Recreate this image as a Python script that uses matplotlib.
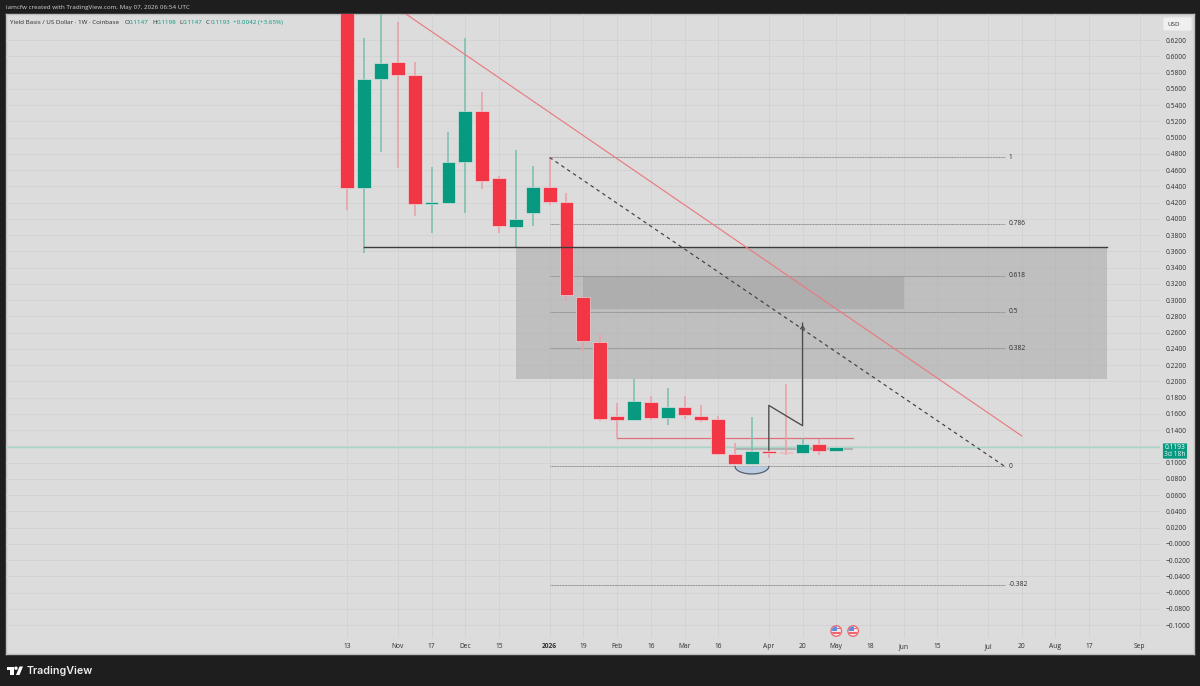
import numpy as np
import matplotlib
matplotlib.use("Agg")
import matplotlib.pyplot as plt
from matplotlib.patches import Rectangle, FancyBboxPatch, Circle

plt.rcParams['font.family'] = ['Open Sans', 'DejaVu Sans']

# ---------- data ----------
opens  = [0.70,0.4386,0.572,0.5927,0.5777,0.418,0.4192,0.4705,0.5333,0.45,0.3906,0.4074,0.4394,0.4205,0.3044,0.2482,
          0.1571,0.1522,0.1748,0.1547,0.1682,0.1571,0.1538,0.1111,0.0988,0.1141,0.1137,0.112,0.1231,0.1147]
highs  = [0.75,0.6224,0.66,0.642,0.5936,0.4644,0.507,0.6232,0.5559,0.4529,0.4845,0.4652,0.4767,0.4316,0.3044,0.2585,
          0.1731,0.2031,0.1822,0.1924,0.1818,0.1707,0.1575,0.1243,0.1563,0.1165,0.1969,0.1308,0.1289,0.1198]
lows   = [0.411,0.3577,0.482,0.4623,0.4037,0.3832,0.4185,0.4078,0.4365,0.3824,0.3659,0.3914,0.4168,0.2995,0.2379,0.1514,
          0.1308,0.1522,0.153,0.1461,0.1542,0.1505,0.1099,0.0981,0.0981,0.1058,0.1091,0.112,0.1095,0.1147]
closes = [0.4386,0.572,0.5925,0.5772,0.418,0.4205,0.4705,0.5333,0.4472,0.3914,0.3996,0.4394,0.4205,0.3065,0.2502,0.1542,
          0.1522,0.1756,0.1555,0.1682,0.1588,0.153,0.1111,0.0981,0.1141,0.1116,0.1116,0.1227,0.1145,0.1193]

price_ticks = [round(0.62 - 0.02*i, 2) for i in range(37)]
date_pos    = [0,3,5,7,9,12,14,16,18,20,22,25,27,29,31,33,35,38,40,42,44,47]
date_labels = ['13','Nov','17','Dec','15','2026','19','Feb','16','Mar','16','Apr','20','May','18','Jun','15','Jul','20','Aug','17','Sep']
bold_dates  = ['2026']

fib_levels = [1, 0.786, 0.618, 0.5, 0.382, 0, -0.382]
fib_top, fib_bottom = 0.4757, 0.0954
fib_start, fib_end = 12, 39.0

trend_x, trend_y = [3.48, 40], [0.6523, 0.133]
support_level = 0.3659
support_x = [1, 45.05]
zone_outer = (10, 45.05, 0.2031, 0.3655)
zone_inner = (14, 33, 0.2892, 0.33)
red_level = 0.1308
red_x = [16, 30]
band = (23, 30, 0.1157, 0.1185)
path_x = [25, 25, 27, 27]
path_y = [0.1157, 0.1706, 0.1456, 0.2717]
last_price = 0.1193
arc_center, arc_halfwidth, arc_depth = 24, 1, 0.0092
flag_pos = [29, 30]

# ---------- colours ----------
FRAME = '#1e1e1e'; BG = '#dcdcdc'; GRID = '#d3d3d3'; TXT = '#2e2e2e'
UP = '#089981'; DOWN = '#f23645'; UPW = '#7cbfb0'; DOWNW = '#eaa0a8'
TICK_FS = 4.8

W, H = 1200, 686
fig = plt.figure(figsize=(W/100, H/100), dpi=100, facecolor=FRAME)
def axrect(l, t, r, b):
    return [l/W, 1-b/H, (r-l)/W, (b-t)/H]

panel = fig.add_axes(axrect(6, 14, 1194, 654), facecolor=BG)
panel.set_xticks([]); panel.set_yticks([])
for s in panel.spines.values():
    s.set_color('#bdbdbd'); s.set_linewidth(1)

ax = fig.add_axes(axrect(6, 14, 1160, 638), facecolor='none')
ax.set_xlim(-20.24, 48.2)
ax.set_ylim(-0.1157, 0.6523)
for s in ax.spines.values():
    s.set_visible(False)
ax.set_yticks(price_ticks)
ax.set_yticklabels([(f'{p:.4f}' if p > 0 else '\u2212' + f'{abs(p):.4f}') for p in price_ticks])
ax.yaxis.tick_right()
ax.set_xticks(date_pos)
ax.set_xticklabels(date_labels)
ax.tick_params(axis='y', length=0, pad=4.3, labelsize=TICK_FS, labelcolor=TXT)
ax.tick_params(axis='x', length=0, pad=3.6, labelsize=TICK_FS, labelcolor=TXT)
for lab in ax.get_xticklabels():
    if lab.get_text() in bold_dates:
        lab.set_fontweight('bold')
ax.grid(True, color=GRID, lw=0.7)
ax.set_axisbelow(True)

# zones
ax.add_patch(Rectangle((zone_outer[0], zone_outer[2]), zone_outer[1]-zone_outer[0], zone_outer[3]-zone_outer[2],
                       fc='#a8a8a8', alpha=0.55, ec='none', zorder=1))
ax.add_patch(Rectangle((zone_inner[0], zone_inner[2]), zone_inner[1]-zone_inner[0], zone_inner[3]-zone_inner[2],
                       fc='#9a9a9a', alpha=0.45, ec='none', zorder=1.1))

# fib
rng = fib_top - fib_bottom
for lv in fib_levels:
    p = fib_bottom + lv*rng
    ax.plot([fib_start, fib_end], [p, p], color='#8e8e8e', lw=0.75, ls=(0, (1, 0.5)), zorder=1.5)
    ax.text(fib_end + 0.24, p, f'{lv:g}', fontsize=TICK_FS, color=TXT, va='center', ha='left', zorder=5)
ax.plot([fib_start, fib_end], [fib_top, fib_bottom], color='#3f3f3f', lw=0.85, ls=(0, (3, 3)), zorder=3)

# current price line
ax.axhline(last_price, color='#a3d6c6', lw=1.0, zorder=1.6)

# arc
t = np.linspace(np.pi, 2*np.pi, 60)
arc_x = arc_center + arc_halfwidth*np.cos(t)
arc_y = fib_bottom + arc_depth*np.sin(t)
ax.fill(arc_x, arc_y, fc='#bccce0', ec='none', zorder=1.7)
ax.plot(arc_x, arc_y, color='#555f6e', lw=0.9, zorder=1.8)

# band and red level
ax.add_patch(Rectangle((band[0], band[2]), band[1]-band[0], band[3]-band[2], fc='#a8a8a8', alpha=.8, ec='none', zorder=1.8))
ax.plot(red_x, [red_level]*2, color='#e0707a', lw=0.9, zorder=1.9)

# candles
idx = np.arange(len(opens))
for i, o, h, l, c in zip(idx, opens, highs, lows, closes):
    up = c >= o
    ax.vlines(i, l, h, color=UPW if up else DOWNW, lw=1.15, zorder=2.2)
    ax.add_patch(Rectangle((i-0.41, min(o, c)), 0.82, abs(c-o), fc=UP if up else DOWN,
                           ec='#ececec', lw=0.4, zorder=2.5))

# support, trend, path
ax.plot(support_x, [support_level]*2, color='#3c3c3c', lw=1.0, zorder=3)
ax.plot(trend_x, trend_y, color='#ea7b82', lw=0.85, zorder=3)
ax.plot(path_x, path_y, color='#4a4a4a', lw=0.95, zorder=3.2)
ax.annotate('', xy=(path_x[-1], path_y[-1]+0.001), xytext=(path_x[-1], path_y[-1]-0.015),
            arrowprops=dict(arrowstyle='->,head_width=0.15,head_length=0.2', color='#4a4a4a', lw=0.8), zorder=3.2)

# pixel overlay for chrome text
ov = fig.add_axes([0, 0, 1, 1], facecolor='none')
ov.set_xlim(0, W); ov.set_ylim(H, 0); ov.axis('off')

# flags (event markers), placed from the chart's own x scale
for fp in flag_pos:
    fx = ov.transData.inverted().transform(ax.transData.transform((fp, 0)))[0]
    fy = 631
    ring = Circle((fx, fy), 5.3, fc='#f6e4e5', ec='#f0646f', lw=0.9, zorder=4)
    ov.add_patch(ring)
    inner = Circle((fx, fy), 4.6, transform=ov.transData)
    for rect in (Rectangle((fx-5, fy-5), 5.5, 4.8, fc='#5b8fe0', ec='none', zorder=4.2),
                 Rectangle((fx+0.5, fy-3), 5, 1.3, fc='#f0646f', ec='none', zorder=4.1),
                 Rectangle((fx-5, fy+1.2), 10, 1.4, fc='#f0646f', ec='none', zorder=4.1)):
        ov.add_patch(rect)
        rect.set_clip_path(inner)

ov.text(6, 8, 'iamcfw created with TradingView.com, May 07, 2026 06:54 UTC', color='#d4d4d4', fontsize=4.5, va='center')
pieces = [(10, 'Yield Basis / US Dollar \u00b7 1W \u00b7 Coinbase', TXT), (125, 'O', TXT), (129, '0.1147', UP),
          (152, 'H', TXT), (157, '0.1198', UP), (179.5, 'L', TXT), (183, '0.1147', UP),
          (206, 'C', TXT), (210.5, '0.1193', UP), (233, '+0.0042 (+3.65%)', UP)]
for x, s, c in pieces:
    ov.text(x, 22.5, s, color=c, fontsize=4.5, va='center')
ov.add_patch(FancyBboxPatch((1162.5, 443), 25, 16, boxstyle='round,pad=0,rounding_size=1', fc=UP, ec='#e8e8e8', lw=0.5))
ov.text(1175, 447.5, '0.1193', color='white', fontsize=TICK_FS, ha='center', va='center')
ov.text(1175, 454.8, '3d 18h', color='#e3f3ef', fontsize=TICK_FS, ha='center', va='center')
ov.add_patch(FancyBboxPatch((1163.5, 17.5), 28, 13, boxstyle='round,pad=0,rounding_size=1.5', fc='#f0f0f0', ec='none'))
ov.text(1174, 24, 'USD', color=TXT, fontsize=4.5, ha='center', va='center')
# logo
ov.add_patch(Rectangle((7, 666.5), 6.5, 3, fc='white', ec='none'))
ov.add_patch(Rectangle((10, 666.5), 3.5, 8.5, fc='white', ec='none'))
ov.add_patch(Circle((16, 668.2), 1.7, fc='white', ec='none'))
ov.fill([19.5, 23, 19.5, 16], [666.5, 666.5, 675, 675], color='white', lw=0)
ov.text(26.5, 670.5, 'TradingView', color='#ededed', fontsize=7.7, fontweight='semibold', va='center', family=['Inter', 'DejaVu Sans'])

fig.savefig('out.png', dpi=100, facecolor=FRAME)
